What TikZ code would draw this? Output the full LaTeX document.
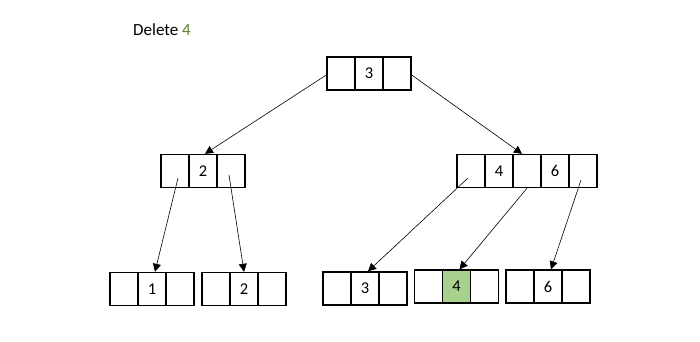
\documentclass[tikz,border=0pt]{standalone}
\usepackage{fontspec}
\setmainfont{Carlito}
\usetikzlibrary{arrows.meta,calc}
\definecolor{dgreen}{HTML}{548235}
\definecolor{lgreen}{HTML}{A9D18E}
\begin{document}
\begin{tikzpicture}[x=1pt,y=-1pt,
  cell/.style={draw,line width=1.4pt,minimum width=28pt,minimum height=33pt,inner sep=0pt,font=\fontsize{16.5}{18}\selectfont},
  link/.style={line width=0.6pt,-{Triangle[length=8pt,width=8pt]}}]
\useasboundingbox[fill=white] (0,0) rectangle (700,341);
\node[anchor=west,inner sep=0pt,font=\fontsize{17}{19}\selectfont] (title) at (133,30) {Delete \textcolor{dgreen}{4}};
% root
\node[cell] (r1) at (341,73.5) {};
\node[cell] (r2) at (369,73.5) {3};
\node[cell] (r3) at (397,73.5) {};
% left internal
\node[cell] (a1) at (175,171) {};
\node[cell] (a2) at (203,171) {2};
\node[cell] (a3) at (231,171) {};
% right internal
\node[cell] (b1) at (471,171) {};
\node[cell] (b2) at (499,171) {4};
\node[cell] (b3) at (527,171) {};
\node[cell] (b4) at (555,171) {6};
\node[cell] (b5) at (583,171) {};
% leaves
\node[cell] (p1) at (124,289) {};
\node[cell] (p2) at (152,289) {1};
\node[cell] (p3) at (180,289) {};
\node[cell] (q1) at (216,289) {};
\node[cell] (q2) at (244,289) {2};
\node[cell] (q3) at (272,289) {};
\node[cell] (s1) at (337,288.5) {};
\node[cell] (s2) at (365,288.5) {3};
\node[cell] (s3) at (393,288.5) {};
\node[cell] (t1) at (428.5,286.5) {};
\node[cell,fill=lgreen] (t2) at (456.5,286.5) {4};
\node[cell] (t3) at (484.5,286.5) {};
\node[cell] (u1) at (520,286.5) {};
\node[cell] (u2) at (548,286.5) {6};
\node[cell] (u3) at (576,286.5) {};
% connectors
\draw[link] ($(r1.west)+(0,1.5)$) -- ($(a2.north)+(2,0)$);
\draw[link] ($(r3.east)+(0,1.5)$) -- ($(b3.north)+(-5,0)$);
\draw[link] ($(a1.center)+(3,7)$) -- ($(p2.north)+(3,0)$);
\draw[link] ($(a3.center)+(-2,4)$) -- (q2.north);
\draw[link] ($(b1.center)+(-3,7)$) -- ($(s2.north)+(3,0)$);
\draw[link] ($(b3.south)+(0,0)$) -- ($(t2.north)+(3,0)$);
\draw[link] ($(b5.center)+(-2,9)$) -- ($(u2.north)+(3,0)$);
\end{tikzpicture}
\end{document}
